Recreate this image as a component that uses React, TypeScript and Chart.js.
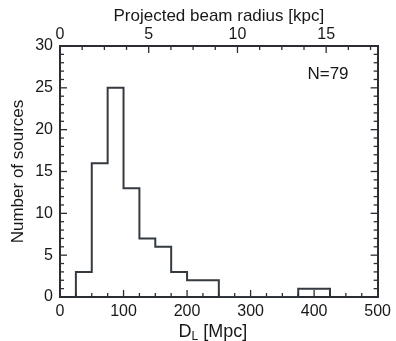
import React, { useEffect, useRef } from "react";
import { Chart, registerables } from "chart.js";

Chart.register(...registerables);

// Histogram of luminosity distance D_L [Mpc]
const binStarts = [25, 50, 75, 100, 125, 150, 175, 200, 225, 250, 375, 400];
const counts = [3, 16, 25, 13, 7, 6, 3, 2, 2, 0, 1, 1];
const lastBinEnd = 425;

const xTicks = [0, 100, 200, 300, 400, 500];
const topTicks = [0, 5, 10, 15];
const yTicks = [0, 5, 10, 15, 20, 25, 30];

const FONT = "'Liberation Sans', Arial, Helvetica, sans-serif";
const TEXT = "#181818";
const LINE = "#343a40";
const FRAME = "#2a2e33";

const tickPlugin = {
  id: "inwardTicks",
  afterDatasetsDraw(chart: any) {
    const { ctx, chartArea: a } = chart;
    ctx.save();
    ctx.strokeStyle = FRAME;
    ctx.lineWidth = 1.3;
    const draw = (id: string, minor: number, major: number, side: string) => {
      const s = chart.scales[id];
      const n = Math.floor((s.max - s.min) / minor + 1e-6);
      for (let i = 0; i <= n; i++) {
        const v = s.min + i * minor;
        const isMajor = Math.abs(v / major - Math.round(v / major)) < 1e-6;
        const len = isMajor ? 7 : 4;
        const p = s.getPixelForValue(v);
        ctx.beginPath();
        if (side === "bottom") { ctx.moveTo(p, a.bottom); ctx.lineTo(p, a.bottom - len); }
        if (side === "top") { ctx.moveTo(p, a.top); ctx.lineTo(p, a.top + len); }
        if (side === "left") { ctx.moveTo(a.left, p); ctx.lineTo(a.left + len, p); }
        if (side === "right") { ctx.moveTo(a.right, p); ctx.lineTo(a.right - len, p); }
        ctx.stroke();
      }
    };
    draw("x", 25, 100, "bottom");
    draw("x2", 1.25, 5, "top");
    draw("y", 1, 5, "left");
    draw("y2", 1, 5, "right");

    // N label
    ctx.fillStyle = TEXT;
    ctx.font = `17px ${FONT}`;
    ctx.textAlign = "center";
    ctx.textBaseline = "middle";
    ctx.fillText("N=79", 328, 74);

    // bottom axis title with subscript
    const cx = (a.left + a.right) / 2 - 6;
    const base = 337;
    ctx.textBaseline = "alphabetic";
    ctx.textAlign = "left";
    ctx.font = `18px ${FONT}`;
    const wD = ctx.measureText("D").width;
    const rest = " [Mpc]";
    const wR = ctx.measureText(rest).width;
    ctx.font = `12px ${FONT}`;
    const wL = ctx.measureText("L").width;
    const total = wD + wL + wR;
    const x0 = cx - total / 2;
    ctx.font = `18px ${FONT}`;
    ctx.fillText("D", x0, base);
    ctx.font = `12px ${FONT}`;
    ctx.fillText("L", x0 + wD, base + 3);
    ctx.font = `18px ${FONT}`;
    ctx.fillText(rest, x0 + wD + wL, base);
    ctx.restore();
  },
};

export default function App() {
  const ref = useRef<HTMLCanvasElement | null>(null);
  useEffect(() => {
    if (!ref.current) return;
    const pts: { x: number; y: number }[] = [{ x: binStarts[0], y: 0 }];
    binStarts.forEach((b, i) => pts.push({ x: b, y: counts[i] }));
    pts.push({ x: lastBinEnd, y: 0 });

    const tickFont = { family: FONT, size: 16 };
    const chart = new Chart(ref.current, {
      type: "line",
      data: {
        datasets: [
          {
            data: pts,
            stepped: true,
            borderColor: LINE,
            borderWidth: 2,
            pointRadius: 0,
            fill: false,
            xAxisID: "x",
            yAxisID: "y",
          },
        ],
      },
      options: {
        animation: false,
        responsive: false,
        maintainAspectRatio: false,
        layout: { padding: 0 },
        plugins: { legend: { display: false }, tooltip: { enabled: false } },
        scales: {
          x: {
            type: "linear",
            position: "bottom",
            min: 0,
            max: 500,
            afterBuildTicks: (s: any) => { s.ticks = xTicks.map((v) => ({ value: v })); },
            ticks: { font: tickFont, color: TEXT, padding: 5, maxRotation: 0, autoSkip: false },
            grid: { display: false, drawTicks: false },
            border: { display: true, color: FRAME, width: 2 },
            afterFit: (s: any) => { s.height = 44; },
          },
          x2: {
            type: "linear",
            position: "top",
            min: 0,
            max: 17.9,
            afterBuildTicks: (s: any) => { s.ticks = topTicks.map((v) => ({ value: v })); },
            ticks: { font: tickFont, color: TEXT, padding: 2, maxRotation: 0, autoSkip: false },
            grid: { display: false, drawTicks: false },
            border: { display: true, color: FRAME, width: 2 },
            title: {
              display: true,
              text: "Projected beam radius [kpc]",
              font: { family: FONT, size: 17 },
              color: TEXT,
              padding: { top: 6, bottom: 0 },
            },
            afterFit: (s: any) => { s.height = 46; },
          },
          y: {
            type: "linear",
            position: "left",
            min: 0,
            max: 30,
            afterBuildTicks: (s: any) => { s.ticks = yTicks.map((v) => ({ value: v })); },
            ticks: { font: tickFont, color: TEXT, padding: 7 },
            grid: { display: false, drawTicks: false },
            border: { display: true, color: FRAME, width: 2 },
            title: {
              display: true,
              text: "Number of sources",
              font: { family: FONT, size: 17 },
              color: TEXT,
              padding: { top: 8, bottom: 0 },
            },
            afterFit: (s: any) => { s.width = 60; },
          },
          y2: {
            type: "linear",
            position: "right",
            min: 0,
            max: 30,
            ticks: { display: false },
            grid: { display: false, drawTicks: false },
            border: { display: true, color: FRAME, width: 2 },
            afterFit: (s: any) => { s.width = 15; },
          },
        },
      },
      plugins: [tickPlugin],
    } as any);
    return () => chart.destroy();
  }, []);

  return (
    <div style={{ position: "absolute", left: 0, top: 0, width: 396, height: 341, background: "#fff" }}>
      <canvas ref={ref} width={396} height={341} />
    </div>
  );
}
